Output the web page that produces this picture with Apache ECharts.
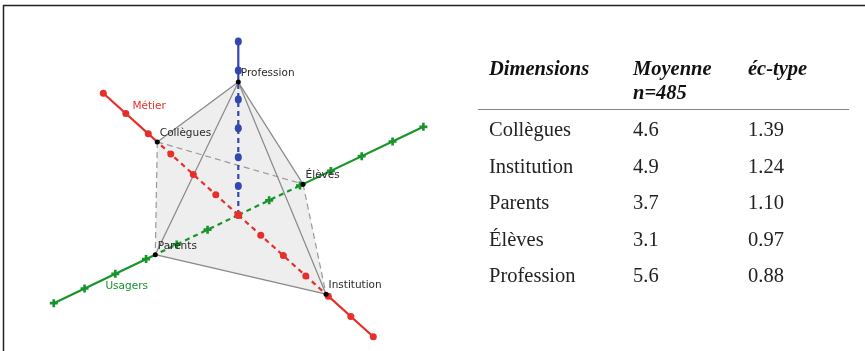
<!DOCTYPE html>
<html>
<head>
<meta charset="utf-8">
<title>Dimensions</title>
<script src="https://cdn.jsdelivr.net/npm/echarts@6/dist/echarts.min.js"></script>
<style>
  html, body { margin: 0; padding: 0; background: #fff; }
  #main { width: 865px; height: 351px; }
</style>
</head>
<body>
<div id="main"></div>
<script type="text/javascript">
// table data
var dimensions = ['Collègues', 'Institution', 'Parents', 'Élèves', 'Profession'];
var moyenne = [4.6, 4.9, 3.7, 3.1, 5.6];
var ecType = ['1.39', '1.24', '1.10', '0.97', '0.88'];
var headers = ['Dimensions', 'Moyenne', 'éc-type'];
var subHeader = 'n=485';

// axes of the diagram (scale 1..7)
var axisNames = ['Métier', 'Usagers', 'Profession'];
var axisOfDim = ['Métier', 'Métier', 'Usagers', 'Usagers', 'Profession'];
var ticks = [2, 3, 4, 5, 6, 7];
var scaleMin = 1, scaleMax = 7;

// projection of the 3 axes on the page (pixels per unit)
var center = [238.3, 215];
var dirs = {
    'Collègues': [-22.5, -20.3],
    'Institution': [22.5, 20.3],
    'Parents': [-30.75, 14.7],
    'Élèves': [30.85, -14.7],
    'Profession': [0, -28.9]
};
var colors = { 'Métier': '#e62e2b', 'Usagers': '#17942a', 'Profession': '#3546ad' };

function proj(dim, v) {
    var d = dirs[dim];
    return [center[0] + (v - scaleMin) * d[0], center[1] + (v - scaleMin) * d[1]];
}
function meanOf(dim) { return moyenne[dimensions.indexOf(dim)]; }

var series = [];

// filled polyhedron
var hullOrder = ['Profession', 'Collègues', 'Parents', 'Institution', 'Élèves'];
series.push({
    type: 'custom',
    silent: true,
    data: hullOrder.map(function (d) { return proj(d, meanOf(d)); }),
    renderItem: function (params, api) {
        if (params.dataIndex !== 0) return;
        var pts = hullOrder.map(function (d) { return api.coord(proj(d, meanOf(d))); });
        return { type: 'polygon', shape: { points: pts }, style: { fill: '#eeeeee' } };
    },
    z: 1
});

function seg(a, b, color, width, type, z) {
    series.push({
        type: 'line', data: [a, b], symbol: 'none', silent: true,
        lineStyle: { color: color, width: width, type: type, opacity: 1 }, z: z
    });
}

// edges of the polyhedron
var solidEdges = [['Profession', 'Collègues'], ['Profession', 'Parents'], ['Profession', 'Institution'],
                  ['Profession', 'Élèves'], ['Parents', 'Institution']];
var dashedEdges = [['Collègues', 'Élèves'], ['Collègues', 'Parents'], ['Élèves', 'Institution']];
dashedEdges.forEach(function (e) {
    seg(proj(e[0], meanOf(e[0])), proj(e[1], meanOf(e[1])), '#999999', 1.2, [6, 4], 2);
});

// axes: dashed inside, solid outside
dimensions.forEach(function (dim, i) {
    var c = colors[axisOfDim[i]];
    seg(proj(dim, scaleMin), proj(dim, moyenne[i]), c, 2.2, [5, 4], 3);
    seg(proj(dim, moyenne[i]), proj(dim, scaleMax), c, 2.2, 'solid', 3);
});

solidEdges.forEach(function (e) {
    seg(proj(e[0], meanOf(e[0])), proj(e[1], meanOf(e[1])), '#888888', 1.2, 'solid', 4);
});

// tick markers
dimensions.forEach(function (dim, i) {
    var ax = axisOfDim[i];
    var sym = 'circle', size = 7;
    if (ax === 'Usagers') { sym = 'path://M3,0h3v3h3v3h-3v3h-3v-3h-3v-3h3z'; size = 8; }
    if (ax === 'Profession') { size = [7, 8]; }
    series.push({
        type: 'scatter', silent: true, symbol: sym, symbolSize: size,
        itemStyle: { color: colors[ax], opacity: 1 },
        data: ticks.map(function (t) { return proj(dim, t); }), z: 5
    });
});
series.push({
    type: 'scatter', silent: true, symbolSize: 8, itemStyle: { color: colors['Métier'], opacity: 1 },
    data: [proj('Collègues', scaleMin)], z: 5
});

// vertices with labels
series.push({
    type: 'scatter', silent: true, symbolSize: 5,
    itemStyle: { color: '#000', opacity: 1 },
    label: {
        show: true, position: [5, -6], align: 'left', verticalAlign: 'middle',
        formatter: '{b}', fontFamily: 'DejaVu Sans', fontSize: 10.5, color: '#2a2a2a'
    },
    data: dimensions.map(function (d, i) { return { name: d, value: proj(d, moyenne[i]) }; }),
    z: 6
});

// axis names
series.push({
    type: 'scatter', silent: true, symbolSize: 1,
    itemStyle: { color: 'transparent', opacity: 1 },
    data: [
        { name: axisNames[0], value: proj('Collègues', 5.5),
          label: { offset: [12, -17], color: colors['Métier'] } },
        { name: axisNames[1], value: proj('Parents', 4.5),
          label: { offset: [-4, 20], color: colors['Usagers'] } }
    ],
    label: { show: true, position: 'inside', formatter: '{b}', fontFamily: 'DejaVu Sans', fontSize: 10.5 },
    z: 6
});

// table and frame
var serif = '"Liberation Serif", "DejaVu Serif", serif';
var colX = [489, 633, 748];
var graphic = [
    { type: 'line', shape: { x1: 3, y1: 5.5, x2: 865, y2: 5.5 }, style: { stroke: '#222', lineWidth: 1.5 } },
    { type: 'line', shape: { x1: 3.5, y1: 5, x2: 3.5, y2: 351 }, style: { stroke: '#222', lineWidth: 1.5 } },
    { type: 'line', shape: { x1: 478, y1: 109.5, x2: 849, y2: 109.5 }, style: { stroke: '#888', lineWidth: 1.2 } }
];
headers.forEach(function (h, j) {
    graphic.push({ type: 'text', x: colX[j], y: 70, style: {
        text: h, fontFamily: serif, fontSize: 20.5, fontStyle: 'italic', fontWeight: 'bold',
        fill: '#111', align: 'left', verticalAlign: 'middle' } });
});
graphic.push({ type: 'text', x: colX[1], y: 93.5, style: {
    text: subHeader, fontFamily: serif, fontSize: 20.5, fontStyle: 'italic', fontWeight: 'bold',
    fill: '#111', align: 'left', verticalAlign: 'middle' } });
dimensions.forEach(function (d, i) {
    var row = [d, moyenne[i].toFixed(1), ecType[i]];
    row.forEach(function (t, j) {
        graphic.push({ type: 'text', x: colX[j], y: 131 + i * 36.5, style: {
            text: t, fontFamily: serif, fontSize: 20.5, fill: '#222',
            align: 'left', verticalAlign: 'middle' } });
    });
});

var mychart = echarts.init(document.getElementById('main'));
mychart.setOption({
    animation: false,
    grid: { left: 0, right: 0, top: 0, bottom: 0 },
    xAxis: { type: 'value', min: 0, max: 865, show: false },
    yAxis: { type: 'value', min: 0, max: 351, inverse: true, show: false },
    graphic: graphic,
    series: series
});
</script>
</body>
</html>
